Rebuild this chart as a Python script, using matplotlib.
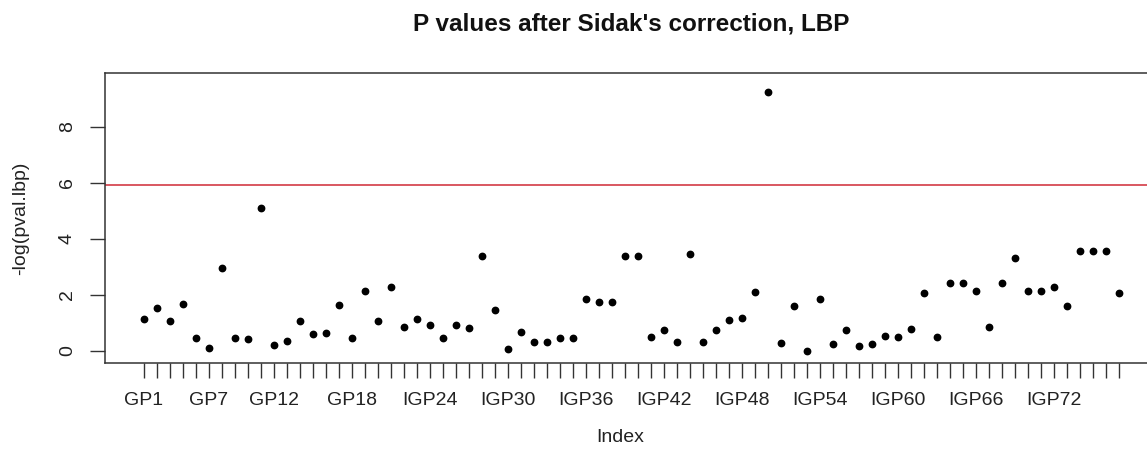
import numpy as np
import matplotlib.pyplot as plt

# -log(p) values, one per marker
pval_lbp = [1.14, 1.55, 1.06, 1.69, 0.46, 0.10, 2.96, 0.46, 0.42, 5.10,
            0.23, 0.37, 1.06, 0.59, 0.64, 1.64, 0.46, 2.14, 1.06, 2.28,
            0.87, 1.14, 0.92, 0.46, 0.92, 0.82, 3.38, 1.46, 0.06, 0.69,
            0.32, 0.32, 0.46, 0.46, 1.87, 1.74, 1.74, 3.38, 3.38, 0.51,
            0.74, 0.32, 3.46, 0.32, 0.74, 1.11, 1.19, 2.09, 9.24, 0.29,
            1.61, 0.01, 1.87, 0.24, 0.74, 0.19, 0.24, 0.55, 0.51, 0.78,
            2.06, 0.51, 2.41, 2.41, 2.14, 0.87, 2.41, 3.33, 2.14, 2.14,
            2.28, 1.61, 3.56, 3.56, 3.56, 2.06]
threshold = 5.91

# marker names (GP2 is absent in the data)
names = ["GP1"] + ["GP%d" % i for i in range(3, 21)] + ["IGP%d" % i for i in range(21, 78)]
# labels R managed to draw without overlap
shown_labels = ["GP1", "GP7", "GP12", "GP18", "IGP24", "IGP30", "IGP36",
                "IGP42", "IGP48", "IGP54", "IGP60", "IGP66", "IGP72"]

plt.rcParams['font.family'] = ['Liberation Sans', 'DejaVu Sans']

W, H = 1147, 458
fig = plt.figure(figsize=(W / 100, H / 100), dpi=100)
# plot region: box left 105px, top 73px, bottom 363px, right edge cut off by the crop
ax = fig.add_axes([105 / W, 1 - 363 / H, (1158 - 105) / W, (363 - 73) / H])

idx = np.arange(1, len(pval_lbp) + 1)
ax.plot(idx, pval_lbp, 'o', color='black', markersize=4.6, zorder=3)
ax.axhline(threshold, color='#d02a36', linewidth=1.1, zorder=2)

ax.set_xlim(-2, 79)
ax.set_ylim(-0.43, 9.92)

ax.set_xticks(idx)
ax.set_xticklabels([n if n in shown_labels else "" for n in names])
ax.set_yticks([0, 2, 4, 6, 8])
for lab in ax.get_yticklabels():
    lab.set_rotation(90)
    lab.set_verticalalignment('center')

ax.tick_params(axis='both', direction='out', length=11, width=1, color='#333333',
               labelsize=14, labelcolor='#222222')
ax.tick_params(axis='x', pad=10)
ax.tick_params(axis='y', pad=10)
for s in ax.spines.values():
    s.set_color('#333333')
    s.set_linewidth(1.1)

fig.text(631 / W, 1 - 24 / H, "P values after Sidak's correction, LBP",
         ha='center', va='center', fontsize=17.5, fontweight='bold', color='#111111')
fig.text(620 / W, 1 - 437 / H, "Index", ha='center', va='center', fontsize=14, color='#222222')
fig.text(21 / W, 1 - 218 / H, "-log(pval.lbp)", ha='center', va='center', rotation=90,
         fontsize=14, color='#222222')

fig.savefig('out.png', dpi=100)
